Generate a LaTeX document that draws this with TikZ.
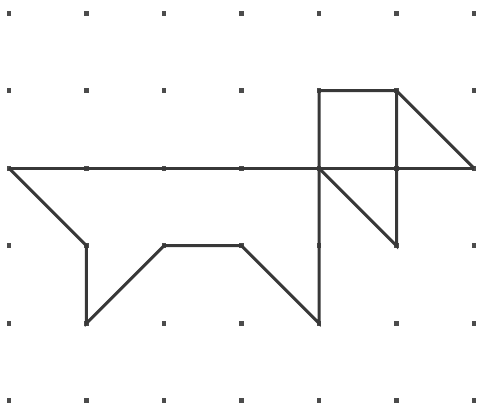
\documentclass[tikz,border=0pt]{standalone}
\begin{document}
\begin{tikzpicture}[x=1cm,y=1cm,
  gdot/.style={fill=black!70,draw=none},
  seg/.style={draw=black!78,line width=1.1pt,line join=miter}]
\useasboundingbox (-0.116,-0.172) rectangle (6.09,5.17);
\foreach \i in {0,...,6}{
  \foreach \j in {0,...,5}{
    \fill[gdot] (\i-0.03,\j-0.03) rectangle (\i+0.03,\j+0.03);
  }
}
\coordinate (L) at (0,3);
\coordinate (R) at (6,3);
\coordinate (A) at (1,2);
\coordinate (B) at (1,1);
\coordinate (C) at (2,2);
\coordinate (D) at (3,2);
\coordinate (E) at (4,1);
\coordinate (F) at (4,4);
\coordinate (G) at (5,4);
\coordinate (M) at (4,3);
\coordinate (N) at (5,2);
\draw[seg] (L) -- (R);
\draw[seg] (L) -- (A) -- (B) -- (C) -- (D) -- (E) -- (F) -- (G) -- (R);
\draw[seg] (M) -- (N) -- (G);
\end{tikzpicture}
\end{document}
